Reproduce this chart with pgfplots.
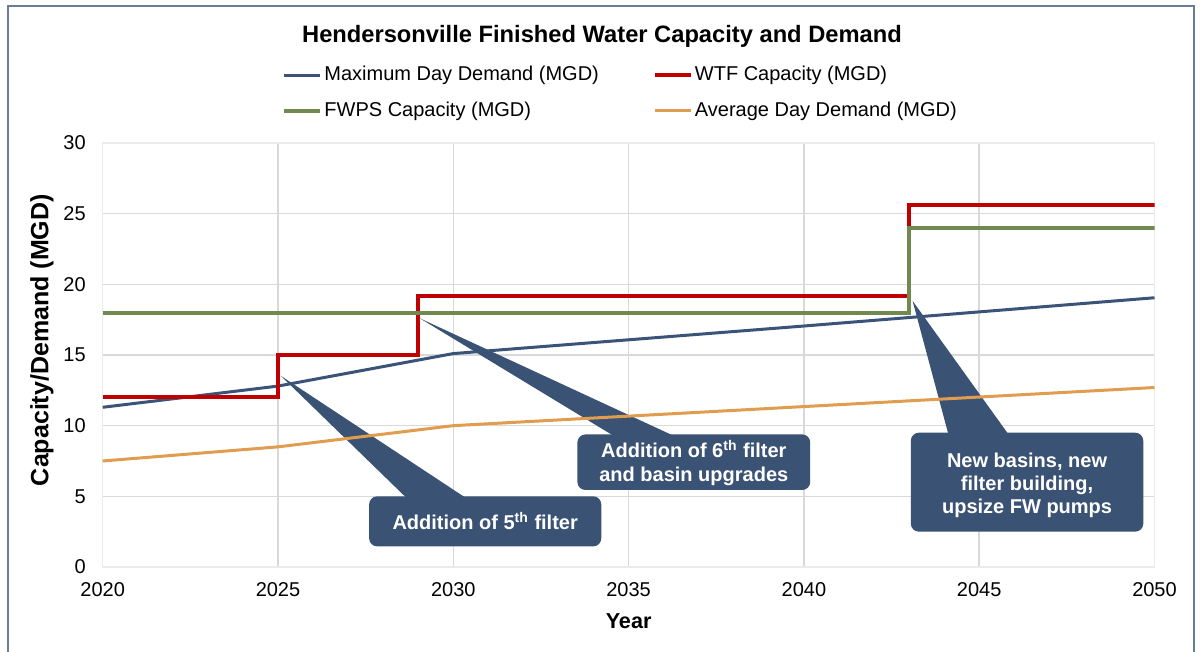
\documentclass[border=0pt]{standalone}
\usepackage{pgfplots}
\pgfplotsset{compat=1.18}
\usepackage{fontspec}
\setmainfont{Liberation Sans}
\definecolor{cblue}{HTML}{3B5378}
\definecolor{cred}{HTML}{C00000}
\definecolor{cgreen}{HTML}{70894F}
\definecolor{corange}{HTML}{E09D50}
\definecolor{ccall}{HTML}{3A5274}
\definecolor{cgrid}{HTML}{D9D9D9}
\definecolor{cframe}{HTML}{6A7C99}
\begin{document}
\begin{tikzpicture}
\path[use as bounding box] (0,0) rectangle (600pt,326pt);
\draw[cframe, line width=1pt] (4pt,0pt) -- (4pt,323pt) -- (597pt,323pt) -- (597pt,0pt);
\begin{axis}[
  at={(51.35pt,42.5pt)}, anchor=south west,
  scale only axis, width=525.9pt, height=212pt,
  xmin=2020, xmax=2050, ymin=0, ymax=30,
  xtick={2020,2025,...,2050}, ytick={0,5,...,30},
  /pgf/number format/1000 sep={},
  /pgf/number format/assume math mode=true,
  tick label style={font=\fontsize{10}{12}\selectfont},
  xticklabel style={yshift=-4pt},
  yticklabel style={xshift=-5pt},
  major tick length=0pt,
  grid=major, major grid style={cgrid, line width=0.75pt},
  axis line style={draw=cgrid!120!gray, line width=0.75pt},
  xlabel={\bfseries Year},
  xlabel style={font=\fontsize{10.8}{13}\selectfont, at={(axis description cs:0.5,-0.127)}, anchor=center},
  ylabel={\bfseries Capacity/Demand (MGD)},
  ylabel style={font=\fontsize{12.5}{15}\selectfont, at={(axis description cs:-0.0577,0.535)}, anchor=center, rotate=0},
  title={\bfseries Hendersonville Finished Water Capacity and Demand},
  title style={font=\fontsize{11.85}{14}\selectfont, at={(axis description cs:0.4747,1.222)}, anchor=center},
  legend columns=2,
  legend cell align=left,
  legend style={draw=none, fill=none, font=\fontsize{10}{12}\selectfont,
    at={(axis description cs:0.1705,1.191)}, anchor=north west,
    inner xsep=0pt, inner ysep=0pt,
    /tikz/every even column/.append style={column sep=26pt},
    row sep=5pt,
    nodes={inner xsep=1pt}},
  legend image code/.code={\draw[#1] (0pt,0pt) -- (18pt,0pt);},
]
% callouts (behind the data lines)
\fill[ccall, rounded corners=4pt] (axis cs:2027.6,1.46) rectangle (axis cs:2034.22,5.0);
\fill[ccall] (axis cs:2028.66,4.9) -- (axis cs:2025.08,13.53) -- (axis cs:2030.35,4.9) -- cycle;
\node[text=white, font=\fontsize{10}{12}\selectfont\bfseries, align=center] at (axis cs:2030.91,3.23) {Addition of 5\textsuperscript{th} filter};
\fill[ccall, rounded corners=4pt] (axis cs:2033.54,5.45) rectangle (axis cs:2040.18,9.38);
\fill[ccall] (axis cs:2034.56,9.3) -- (axis cs:2029.05,17.59) -- (axis cs:2036.27,9.3) -- cycle;
\node[text=white, font=\fontsize{10}{12}\selectfont\bfseries, align=center] at (axis cs:2036.86,7.35) {Addition of 6\textsuperscript{th} filter\\and basin upgrades};
\fill[ccall, rounded corners=4pt] (axis cs:2043.05,2.5) rectangle (axis cs:2049.68,9.5);
\fill[ccall] (axis cs:2044.12,9.4) -- (axis cs:2043.1,18.83) -- (axis cs:2045.83,9.4) -- cycle;
\node[text=white, font=\fontsize{10}{11.5}\selectfont\bfseries, align=center] at (axis cs:2046.365,5.75) {New basins, new\\filter building,\\upsize FW pumps};
% data
\addplot[cblue, line width=1.5pt] coordinates {(2020,11.3) (2025,12.8) (2030,15.1) (2040,17.05) (2050,19.05)};
\addlegendentry{Maximum Day Demand (MGD)}
\addplot[cred, line width=2pt, const plot, line join=miter] coordinates {(2020,12) (2025,15) (2029,19.2) (2043,25.6) (2050,25.6)};
\addlegendentry{WTF Capacity (MGD)}
\addplot[cgreen, line width=2pt, const plot, line join=miter] coordinates {(2020,18) (2043,24) (2050,24)};
\addlegendentry{FWPS Capacity (MGD)}
\addplot[corange, line width=1.5pt] coordinates {(2020,7.5) (2025,8.5) (2030,10.0) (2040,11.35) (2050,12.7)};
\addlegendentry{Average Day Demand (MGD)}
\end{axis}
\end{tikzpicture}
\end{document}
